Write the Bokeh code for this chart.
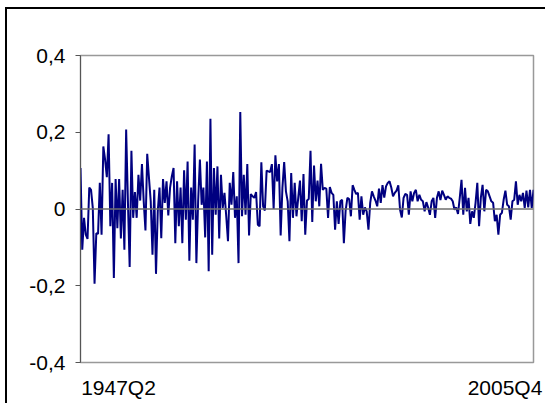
from bokeh.plotting import figure
from bokeh.models import Span, FixedTicker, Range1d
from bokeh.embed import file_html
from bokeh.resources import INLINE

# Quarterly series 1947Q2 .. 2005Q4
seg1 = [0.107, -0.106, -0.023, -0.067, -0.078, 0.056, 0.050, 0.003, -0.195, -0.063,
        -0.065, 0.068, -0.067, 0.163, 0.129, 0.083, 0.195, -0.045, 0.068, -0.180,
        0.078, -0.050, 0.078, -0.077, 0.050, -0.106, 0.207, 0.020, -0.151, 0.152,
        -0.023, 0.044, -0.023, 0.089, 0.022, 0.117, 0.020, -0.056, 0.144, 0.081,
        0.020, -0.119, 0.050, -0.169, -0.006, 0.056, -0.076, 0.078, 0.016, 0.072,
        -0.017, 0.055, 0.085, 0.107, -0.089, 0.072, -0.045, 0.056, -0.089, 0.101]
seg2 = [-0.028, 0.124, -0.135, 0.056, -0.028, 0.168, -0.141, 0.020, 0.129, 0.011,
        0.056, -0.074, 0.124, -0.162, 0.235, -0.119, 0.107, -0.015, 0.111, -0.077,
        0.089, 0.003, 0.042, -0.019, -0.084, 0.068, 0.011, 0.096, -0.023, 0.033,
        -0.141, 0.253, -0.019, 0.089, -0.015, 0.117, -0.069, 0.039, 0.033, 0.029,
        0.044, -0.041, -0.045, 0.122, 0.007, -0.004, 0.100, 0.098, 0.096, 0.117,
        0.000, 0.140, 0.072, 0.117, -0.069, 0.055, 0.122, 0.046, 0.020, -0.084,
        0.094]
seg3 = [-0.023, 0.068, -0.019, 0.029, 0.074, -0.032, 0.091, -0.067, 0.022, 0.026,
        0.152, -0.034, 0.113, 0.020, 0.074, 0.007, 0.118, 0.050, 0.055, 0.053,
        -0.023, 0.057, 0.042, 0.037, -0.054, 0.020, -0.039, 0.020, 0.024, -0.089,
        -0.004, 0.029, 0.026, -0.019, 0.062, 0.050, 0.039, 0.042, -0.028, 0.033,
        -0.015, 0.004, -0.006, -0.054, 0.016, 0.046, 0.033, 0.022, 0.007, 0.053,
        0.016, 0.062, 0.030, 0.059, 0.068, 0.072, 0.056, 0.033, 0.042, 0.048,
        0.062, -0.002, -0.022, 0.029, 0.039, 0.037, -0.015, 0.046]
seg4 = [0.020, 0.042, 0.050, 0.020, 0.037, 0.024, 0.020, -0.006, 0.018, 0.004,
        -0.015, 0.020, 0.029, -0.023, 0.029, 0.046, 0.023, 0.048, 0.037, 0.024,
        0.033, 0.029, 0.027, 0.020, -0.002, 0.004, -0.013, 0.029, 0.076, -0.015,
        0.055, -0.006, 0.029, -0.039, -0.006, -0.023, 0.016, 0.068, -0.045, 0.029,
        0.063, -0.006, 0.050, 0.046, 0.033, 0.020, 0.016, -0.032, -0.015, -0.067,
        -0.015, -0.010, 0.024, 0.048, 0.011, 0.007, -0.028, 0.020, 0.024, 0.072,
        0.011, 0.037, 0.020, 0.042, 0.003, 0.048, 0.004, 0.050, 0.003, 0.050]

values = seg1 + seg2 + seg3 + seg4
periods_shown = ["1947Q2", "2005Q4"]
y_ticks = [-0.4, -0.2, 0.0, 0.2, 0.4]
y_tick_labels = ["-0,4", "-0,2", "0", "0,2", "0,4"]

n = len(values)
xs = list(range(n))

p = figure(width=540, height=396, output_backend="svg", toolbar_location=None,
           x_range=Range1d(0, n - 1), y_range=Range1d(-0.4, 0.4),
           min_border_left=73, min_border_right=14, min_border_top=46, min_border_bottom=43)
p.margin = (7, 0, 0, 5)
p.styles = {"border-left": "2px solid black", "border-top": "2px solid black"}

p.xgrid.visible = False
p.ygrid.visible = False
p.outline_line_color = "#999999"
p.outline_line_width = 1.5
p.background_fill_color = "white"
p.border_fill_color = "white"

ya = p.yaxis[0]
ya.ticker = FixedTicker(ticks=y_ticks)
ya.major_label_overrides = {t: l for t, l in zip(y_ticks, y_tick_labels)}
ya.minor_tick_line_color = None
ya.major_tick_out = 5
ya.major_tick_in = 0
ya.axis_line_color = "#555555"
ya.major_tick_line_color = "#555555"
ya.major_label_text_font = "Liberation Sans"
ya.major_label_text_font_size = "21px"
ya.major_label_text_color = "black"
ya.major_label_standoff = 10

# category axis: only first and last period are labelled (label centres)
xa = p.xaxis[0]
first_label_pos = (n - 1) * (118 - 80) / 453.0
last_label_pos = (n - 1) * (504.5 - 80) / 453.0
xa.ticker = FixedTicker(ticks=[first_label_pos, last_label_pos])
xa.major_label_overrides = {first_label_pos: periods_shown[0], last_label_pos: periods_shown[1]}
xa.axis_line_color = None
xa.major_tick_line_color = None
xa.minor_tick_line_color = None
xa.major_label_text_font = "Liberation Sans"
xa.major_label_text_font_size = "21px"
xa.major_label_text_color = "black"
xa.major_label_standoff = 7

p.add_layout(Span(location=0, dimension="width", line_color="#6e6e6e", line_width=1.5))

p.line(xs, values, line_color="#000080", line_width=2)

open("out.html", "w").write(file_html(p, INLINE))
